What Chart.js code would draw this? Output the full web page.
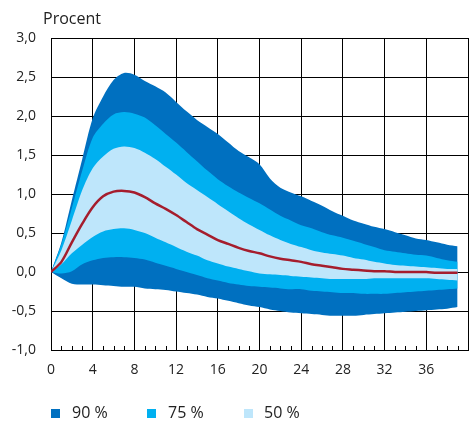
<!DOCTYPE html>
<html>
<head>
<meta charset="utf-8">
<script src="https://cdn.jsdelivr.net/npm/chart.js@4.4.0/dist/chart.umd.min.js"></script>
<style>
  html, body { margin: 0; padding: 0; background: #fff; overflow: hidden; }
  body { width: 469px; height: 421px; position: relative; font-family: "Open Sans", sans-serif; color: #222; }
  #wrap { position: absolute; left: 0; top: 0; width: 480px; height: 421px; }
  .unit { position: absolute; left: 43px; top: 10px; font-size: 16px; line-height: 16px; }
  .leg { position: absolute; top: 404px; font-size: 16px; line-height: 16px; white-space: nowrap; }
  .leg i { position: absolute; top: 5px; width: 9px; height: 9px; }
  .leg span { position: absolute; white-space: nowrap; }
</style>
</head>
<body>
<div id="wrap"><canvas id="myChart"></canvas></div>
<div class="unit">Procent</div>
<div class="leg" style="left:51px"><i style="left:0;background:#0070c0"></i><span style="left:21px">90 %</span></div>
<div class="leg" style="left:147px"><i style="left:0;background:#00b0f0"></i><span style="left:21px">75 %</span></div>
<div class="leg" style="left:244px"><i style="left:0;background:#bee6fb"></i><span style="left:20px">50 %</span></div>
<script>
const quarters = [];
for (let i = 0; i < 40; i++) quarters.push(i);

const median = [0, 0.13, 0.38, 0.62, 0.83, 0.97, 1.03, 1.04, 1.02, 0.96, 0.88, 0.81, 0.73, 0.64, 0.55, 0.48, 0.41, 0.36, 0.31, 0.27,
  0.24, 0.2, 0.17, 0.15, 0.13, 0.1, 0.08, 0.06, 0.04, 0.03, 0.02, 0.01, 0.01, 0, 0, 0, 0, -0.01, -0.01, -0.01];
const upper50 = [0, 0.28, 0.66, 1.05, 1.33, 1.48, 1.58, 1.61, 1.59, 1.53, 1.45, 1.35, 1.25, 1.14, 1.05, 0.96, 0.87, 0.78, 0.69, 0.61,
  0.54, 0.47, 0.41, 0.36, 0.32, 0.28, 0.25, 0.23, 0.21, 0.18, 0.16, 0.13, 0.11, 0.09, 0.08, 0.07, 0.06, 0.05, 0.04, 0.04];
const lower50 = [0, 0.1, 0.24, 0.35, 0.45, 0.52, 0.55, 0.56, 0.54, 0.5, 0.44, 0.38, 0.32, 0.26, 0.21, 0.15, 0.11, 0.07, 0.04, 0.01,
  -0.02, -0.03, -0.04, -0.05, -0.06, -0.07, -0.08, -0.09, -0.09, -0.09, -0.09, -0.08, -0.08, -0.08, -0.08, -0.08, -0.08, -0.09, -0.1, -0.11];
const upper75 = [0, 0.36, 0.82, 1.3, 1.72, 1.9, 2.02, 2.05, 2.03, 1.98, 1.88, 1.77, 1.66, 1.54, 1.42, 1.3, 1.19, 1.1, 1.02, 0.95,
  0.88, 0.8, 0.72, 0.66, 0.6, 0.56, 0.51, 0.47, 0.44, 0.4, 0.36, 0.32, 0.28, 0.26, 0.24, 0.22, 0.21, 0.18, 0.15, 0.13];
const lower75 = [0, -0.02, 0.01, 0.1, 0.15, 0.18, 0.19, 0.19, 0.18, 0.16, 0.12, 0.08, 0.04, 0, -0.04, -0.08, -0.11, -0.14, -0.16, -0.18,
  -0.19, -0.2, -0.21, -0.22, -0.22, -0.24, -0.25, -0.26, -0.27, -0.27, -0.28, -0.28, -0.28, -0.27, -0.26, -0.25, -0.24, -0.23, -0.22, -0.21];
const upper90 = [0, 0.38, 0.92, 1.45, 1.97, 2.25, 2.46, 2.55, 2.53, 2.45, 2.38, 2.3, 2.18, 2.06, 1.95, 1.86, 1.77, 1.66, 1.55, 1.47,
  1.38, 1.2, 1.08, 1.02, 0.97, 0.91, 0.85, 0.78, 0.72, 0.66, 0.62, 0.58, 0.55, 0.51, 0.47, 0.43, 0.41, 0.38, 0.35, 0.33];
const lower90 = [0, -0.08, -0.15, -0.16, -0.16, -0.17, -0.18, -0.19, -0.19, -0.21, -0.22, -0.23, -0.25, -0.27, -0.29, -0.32, -0.34, -0.37, -0.4, -0.43,
  -0.45, -0.48, -0.5, -0.52, -0.53, -0.54, -0.55, -0.56, -0.56, -0.56, -0.55, -0.54, -0.53, -0.52, -0.51, -0.5, -0.49, -0.48, -0.47, -0.45];

const xTicks = [0, 4, 8, 12, 16, 20, 24, 28, 32, 36];
const yTicks = [-1, -0.5, 0, 0.5, 1, 1.5, 2, 2.5, 3];

function pts(arr) {
  return arr.map((v, i) => ({x: quarters[i], y: v}));
}

function band(arr, fillTo, color) {
  return {
    data: pts(arr),
    borderWidth: 0,
    borderColor: color,
    backgroundColor: color,
    pointRadius: 0,
    tension: 0.3,
    fill: fillTo
  };
}

// small ticks for each quarter along the bottom axis
const minorTicks = {
  id: 'minorTicks',
  afterDraw(chart) {
    const {ctx, chartArea} = chart;
    const x = chart.scales.x;
    ctx.save();
    ctx.strokeStyle = '#000';
    ctx.lineWidth = 1;
    for (let q = 1; q < 40; q++) {
      if (xTicks.includes(q)) continue;
      const px = Math.round(x.getPixelForValue(q)) + 0.5;
      ctx.beginPath();
      ctx.moveTo(px, chartArea.bottom);
      ctx.lineTo(px, chartArea.bottom - 4);
      ctx.stroke();
    }
    ctx.restore();
  }
};

const ctx = document.getElementById("myChart").getContext("2d");
const chart = new Chart(ctx, {
  type: "line",
  data: {
    datasets: [
      {
        data: pts(median),
        borderColor: "#a51d2d",
        borderWidth: 2.5,
        pointRadius: 0,
        tension: 0.3,
        fill: false
      },
      band(upper50, 2, "#bee6fb"),
      band(lower50, false, "#bee6fb"),
      band(upper75, 4, "#00b0f0"),
      band(lower75, false, "#00b0f0"),
      band(upper90, 6, "#0070c0"),
      band(lower90, false, "#0070c0")
    ]
  },
  options: {
    responsive: true,
    maintainAspectRatio: false,
    animation: false,
    layout: {padding: {top: 38, right: 0, bottom: 0, left: 0}},
    plugins: {legend: {display: false}, tooltip: {enabled: false}},
    scales: {
      x: {
        type: "linear",
        min: 0,
        max: 40,
        afterBuildTicks: s => { s.ticks = xTicks.concat([40]).map(v => ({value: v})); },
        afterFit: s => { s.height = 71; },
        ticks: {
          callback: v => (v < 40 ? v : ""),
          autoSkip: false,
          maxRotation: 0,
          padding: 12,
          color: "#222",
          font: {family: "Open Sans", size: 14}
        },
        grid: {color: "#000", lineWidth: 1, drawTicks: false},
        border: {color: "#000", width: 1}
      },
      y: {
        min: -1,
        max: 3,
        afterBuildTicks: s => { s.ticks = yTicks.map(v => ({value: v})); },
        afterFit: s => { s.width = 51; },
        ticks: {
          callback: v => v.toFixed(1).replace(".", ","),
          padding: 15,
          color: "#222",
          font: {family: "Open Sans", size: 14}
        },
        grid: {color: "#000", lineWidth: 1, drawTicks: false},
        border: {color: "#000", width: 1}
      }
    }
  },
  plugins: [minorTicks]
});
</script>
</body>
</html>
